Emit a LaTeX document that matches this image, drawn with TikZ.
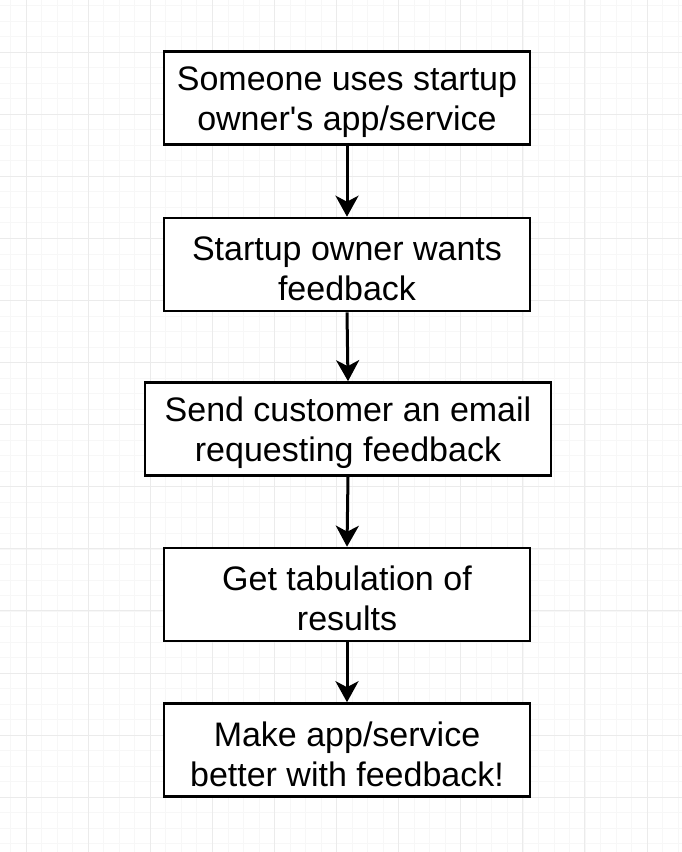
\documentclass[tikz,border=0pt]{standalone}
\usepackage{fontspec}
\setmainfont{Liberation Sans}[Ligatures=TeXOff]
\usetikzlibrary{arrows.meta}
\tikzset{
  stepbox/.style={draw=black, line width=2.6pt, fill=white, inner sep=0pt,
    minimum width=366pt, minimum height=93pt},
  steptext/.style={align=center, font=\fontsize{34}{40}\selectfont, inner sep=0pt},
  flow/.style={line width=3pt, -{Stealth[length=21pt, width=23pt, inset=6pt]}},
  majorgrid/.style={draw=black!8, line width=1pt},
  minorgrid/.style={draw=black!3, line width=0.6pt}
}
\begin{document}
\begin{tikzpicture}[x=1pt, y=-1pt]
\fill[white] (0,0) rectangle (682,852);
\useasboundingbox (0,0) rectangle (682,852);
% minor grid
\foreach \i in {-1,...,44} {
  \draw[minorgrid] ({26+15.525*\i},0) -- ({26+15.525*\i},852);
}
\foreach \i in {-3,...,52} {
  \draw[minorgrid] (0,{52+15.525*\i}) -- (682,{52+15.525*\i});
}
% major grid
\foreach \i in {0,...,10} {
  \draw[majorgrid] ({26+62.1*\i},0) -- ({26+62.1*\i},852);
}
\foreach \i in {-1,...,13} {
  \draw[majorgrid] (0,{52+62.1*\i}) -- (682,{52+62.1*\i});
}
\node[stepbox] (b1) at (347,98) {};
\node[stepbox] (b2) at (347,264.5) {};
\node[stepbox, minimum width=406pt] (b3) at (348,429) {};
\node[stepbox] (b4) at (347,594.5) {};
\node[stepbox] (b5) at (347,750) {};
\node[steptext] (t1) at ([yshift=-4pt]b1.center) {Someone uses startup\\owner's app/service};
\node[steptext] (t2) at ([yshift=-4pt]b2.center) {Startup owner wants\\feedback};
\node[steptext] (t3) at ([yshift=-4pt]b3.center) {Send customer an email\\requesting feedback};
\node[steptext] (t4) at ([yshift=-4pt]b4.center) {Get tabulation of\\results};
\node[steptext] (t5) at ([yshift=-4pt]b5.center) {Make app/service\\better with feedback!};
\draw[flow] (b1.south) -- (b2.north);
\draw[flow] (b2.south) -- (b3.north);
\draw[flow] (b3.south) -- (b4.north);
\draw[flow] (b4.south) -- (b5.north);
\end{tikzpicture}
\end{document}
